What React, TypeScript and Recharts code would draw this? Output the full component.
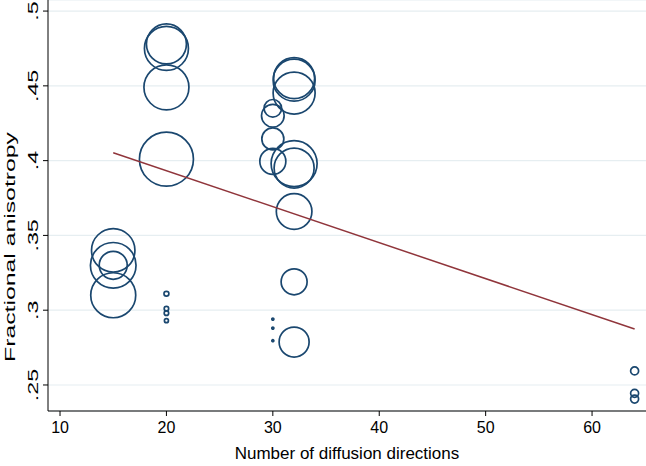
import React from "react";
import { ScatterChart, Scatter, XAxis, YAxis, ZAxis, CartesianGrid } from "recharts";

// Study-level data: diffusion directions, mean FA, bubble weight
const directions = [
  15, 15, 15, 15,
  20, 20, 20, 20, 20, 20, 20, 20,
  30, 30, 30, 30, 30, 30, 30,
  32, 32, 32, 32, 32, 32, 32, 32,
  64, 64, 64,
];
const fa = [
  0.340, 0.330, 0.330, 0.310,
  0.478, 0.475, 0.449, 0.401, 0.311, 0.301, 0.298, 0.293,
  0.435, 0.430, 0.4145, 0.3995, 0.294, 0.288, 0.2796,
  0.4551, 0.4538, 0.4452, 0.398, 0.395, 0.366, 0.319, 0.2787,
  0.2594, 0.2444, 0.2406,
];
const weight = [
  471, 520, 196, 506,
  400, 484, 506, 729, 6, 5, 5, 4,
  77, 128, 121, 169, 1, 1, 1,
  420, 441, 441, 529, 400, 317, 169, 225,
  16, 16, 16,
];

// Linear fit endpoints
const fitX = [15, 64];
const fitY = [0.4053, 0.2874];

const xTicks = [10, 20, 30, 40, 50, 60];
const yTicks = [0.25, 0.3, 0.35, 0.4, 0.45, 0.5];

const points = directions.map((d, i) => ({ x: d, y: fa[i], w: weight[i] }));
const fit = fitX.map((x, i) => ({ x, y: fitY[i] }));

const FONT = "'Liberation Sans', Arial, Helvetica, sans-serif";
const fmtY = (v: number) => String(v).replace(/^0/, "");

const XTick = (props: any) => {
  const { x, y, payload } = props;
  return (
    <text x={x} y={y} dy={15} textAnchor="middle" fontSize={16} fill="#000" fontFamily={FONT}>
      {payload.value}
    </text>
  );
};

const YTick = (props: any) => {
  const { x, y, payload } = props;
  return (
    <g transform={`translate(${x - 3},${y}) rotate(-90) scale(1.55,1)`}>
      <text x={0} y={0} textAnchor="middle" fontSize={15} fill="#000" fontFamily={FONT}>
        {fmtY(payload.value)}
      </text>
    </g>
  );
};

const XTitle = (props: any) => {
  const vb = props.viewBox || {};
  const cx = vb.x + vb.width / 2;
  return (
    <text x={cx} y={459} textAnchor="middle" fontSize={17} fill="#000" fontFamily={FONT}>
      Number of diffusion directions
    </text>
  );
};

const YTitle = () => (
  <g transform={`translate(15,247) rotate(-90) scale(1.6,1)`}>
    <text x={0} y={0} textAnchor="middle" fontSize={15.5} fill="#000" fontFamily={FONT}>
      Fractional anisotropy
    </text>
  </g>
);

export default function App() {
  return (
    <div style={{ position: "absolute", left: 0, top: 0, background: "#fff" }}>
      <ScatterChart width={646} height={466} margin={{ top: 0, right: 0, bottom: 0, left: 0 }}>
        <CartesianGrid vertical={false} stroke="#e6eef1" strokeWidth={1.2} />
        <XAxis
          type="number"
          dataKey="x"
          domain={[8.87, 65.07]}
          ticks={xTicks}
          allowDataOverflow
          height={55}
          tickSize={5}
          tickLine={{ stroke: "#000" }}
          axisLine={{ stroke: "#000" }}
          tick={<XTick />}
          label={<XTitle />}
        />
        <YAxis
          type="number"
          dataKey="y"
          domain={[0.2326, 0.5074]}
          ticks={yTicks}
          allowDataOverflow
          width={48}
          tickSize={5}
          tickLine={{ stroke: "#000" }}
          axisLine={{ stroke: "#000" }}
          tick={<YTick />}
          label={<YTitle />}
        />
        <ZAxis type="number" dataKey="w" domain={[0, 729]} range={[0, 729 * Math.PI]} />
        <Scatter
          data={points}
          fill="none"
          stroke="#1a476f"
          strokeWidth={1.7}
          isAnimationActive={false}
        />
        <Scatter
          data={fit}
          line={{ stroke: "#90353b", strokeWidth: 1.5 }}
          shape={() => <g />}
          isAnimationActive={false}
        />
      </ScatterChart>
    </div>
  );
}
